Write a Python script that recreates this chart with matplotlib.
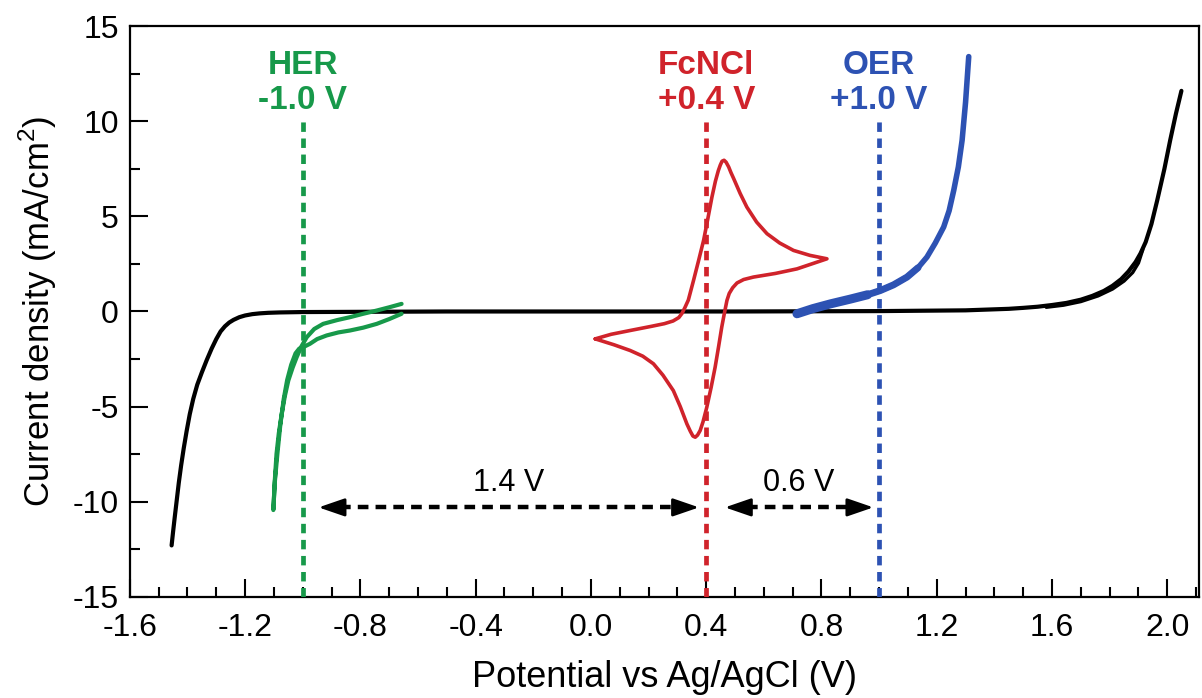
import numpy as np
import matplotlib
matplotlib.use("Agg")
import matplotlib.pyplot as plt
from matplotlib.ticker import MultipleLocator

plt.rcParams['font.family'] = ['Liberation Sans', 'DejaVu Sans']
plt.rcParams['mathtext.fontset'] = 'custom'
plt.rcParams['mathtext.rm'] = 'Liberation Sans'
plt.rcParams['axes.unicode_minus'] = False

# 空白电极 (black)
black_x = [-1.455, -1.45, -1.444, -1.437, -1.43, -1.422, -1.413, -1.403, -1.392, -1.38, -1.366,
           -1.35, -1.333, -1.316, -1.30, -1.285, -1.27, -1.255, -1.24, -1.22, -1.20, -1.175,
           -1.15, -1.12, -1.08, -1.0, -0.5, 0.0, 0.5, 1.0, 1.3, 1.45, 1.5, 1.55, 1.6, 1.65,
           1.70, 1.74, 1.78, 1.81, 1.84, 1.865, 1.89, 1.907, 1.925, 1.945, 1.965, 1.99, 2.01,
           2.03, 2.049]
black_y = [-12.3, -11.6, -10.8, -9.9, -9.0, -8.1, -7.2, -6.3, -5.4, -4.6, -3.85,
           -3.2, -2.55, -1.95, -1.45, -1.05, -0.78, -0.58, -0.44, -0.3, -0.21, -0.14,
           -0.1, -0.07, -0.05, -0.03, 0.0, 0.0, 0.0, 0.02, 0.06, 0.14, 0.19, 0.25, 0.34, 0.45,
           0.62, 0.82, 1.08, 1.35, 1.7, 2.1, 2.6, 3.05, 3.65, 4.6, 5.84, 7.5, 9.0,
           10.4, 11.6]
black2_x = [1.58, 1.64, 1.70, 1.76, 1.81, 1.85, 1.88, 1.90, 1.915]
black2_y = [0.22, 0.33, 0.52, 0.82, 1.18, 1.6, 2.05, 2.55, 3.25]

# HER (green)
green_x = [-0.657, -0.70, -0.743, -0.79, -0.836, -0.88, -0.929, -0.96, -0.986, -1.005, -1.021,
           -1.035, -1.050, -1.062, -1.073, -1.083, -1.091, -1.097, -1.102,
           -1.097, -1.088, -1.078, -1.066, -1.054, -1.040, -1.025, -1.012, -0.995, -0.975,
           -0.950, -0.917, -0.876, -0.836, -0.79, -0.743, -0.70, -0.657]
green_y = [0.40, 0.22, 0.05, -0.12, -0.30, -0.45, -0.65, -0.92, -1.35, -1.85, -2.40,
           -2.95, -3.63, -4.45, -5.39, -6.4, -7.49, -8.9, -10.44,
           -9.0, -7.5, -6.0, -4.6, -3.6, -2.8, -2.2, -1.95, -1.85, -1.70,
           -1.45, -1.26, -1.10, -1.0, -0.85, -0.65, -0.40, -0.12]

# FcNCl CV (red)
red_x = [0.015, 0.07, 0.136, 0.21, 0.255, 0.285, 0.305, 0.316, 0.326, 0.338, 0.356, 0.374,
         0.391, 0.406, 0.420, 0.432, 0.442, 0.449, 0.455, 0.462, 0.469, 0.478, 0.486, 0.495,
         0.518, 0.541, 0.575, 0.611, 0.655, 0.703, 0.76, 0.819, 0.715, 0.64, 0.564, 0.53,
         0.507, 0.492, 0.48, 0.472, 0.463, 0.454, 0.443, 0.431, 0.417, 0.402, 0.389, 0.379,
         0.37, 0.362, 0.354, 0.345, 0.333, 0.31, 0.286, 0.25, 0.217, 0.18, 0.136, 0.08, 0.015]
red_y = [-1.44, -1.2, -1.0, -0.78, -0.64, -0.5, -0.32, -0.1, 0.2, 0.6, 1.63, 2.7,
         3.74, 4.9, 6.02, 6.85, 7.4, 7.7, 7.9, 7.95, 7.85, 7.6, 7.3, 7.0,
         6.2, 5.49, 4.7, 4.09, 3.6, 3.21, 2.95, 2.77, 2.24, 2.0, 1.81, 1.68,
         1.5, 1.25, 0.95, 0.58, -0.1, -0.82, -1.85, -2.93, -4.0, -5.04, -5.8, -6.26,
         -6.5, -6.61, -6.55, -6.3, -5.91, -5.0, -4.16, -3.35, -2.75, -2.35, -2.05, -1.75, -1.44]

# OER (blue)
blue_x = [0.715, 0.77, 0.831, 0.90, 0.96, 1.004, 1.05, 1.097, 1.135, 1.166, 1.195, 1.224,
          1.243, 1.259, 1.275, 1.288, 1.30, 1.311]
blue_y = [-0.12, 0.15, 0.40, 0.65, 0.88, 1.1, 1.4, 1.81, 2.3, 2.86, 3.6, 4.44,
          5.3, 6.37, 7.6, 9.0, 11.0, 13.4]

# 标注
mark_pos = [-1.0, 0.4, 1.0]
mark_name = ['HER\n-1.0 V', 'FcNCl\n+0.4 V', 'OER\n+1.0 V']
gap_label = ['1.4 V', '0.6 V']
xtick_val = [-1.6, -1.2, -0.8, -0.4, 0.0, 0.4, 0.8, 1.2, 1.6, 2.0]
xtick_lab = ['-1.6', '-1.2', '-0.8', '-0.4', '0.0', '0.4', '0.8', '1.2', '1.6', '2.0']

c_green = '#17994a'
c_red = '#d0232b'
c_blue = '#2d52b3'
mark_color = [c_green, c_red, c_blue]

fig = plt.figure(figsize=(12.02, 6.98), dpi=100)
ax = fig.add_axes([0.108, 0.145, 0.8895, 0.8175])

rj = dict(solid_joinstyle='round', solid_capstyle='round')
ax.plot(black_x, black_y, color='k', lw=3, **rj)
ax.plot(black2_x, black2_y, color='k', lw=2.4, **rj)
ax.plot(green_x, green_y, color=c_green, lw=3, **rj)
ax.plot(red_x, red_y, color=c_red, lw=2.6, **rj)
ax.plot(blue_x, blue_y, color=c_blue, lw=4, **rj)
ax.plot(blue_x[:9], blue_y[:9], color=c_blue, lw=5, **rj)
ax.plot(blue_x[:5], blue_y[:5], color=c_blue, lw=6.5, **rj)

for i in range(3):
    ax.plot([mark_pos[i], mark_pos[i]], [-15, 10], color=mark_color[i], lw=3.4,
            linestyle=(0, (2.0, 1.4)), zorder=5)
    ax.text(mark_pos[i], 12.0, mark_name[i], color=mark_color[i], fontsize=24,
            fontweight='bold', ha='center', va='center', linespacing=1.15)

# 电位差箭头: 虚线 + 实心箭头
arrow_y = -10.3
head = 0.075
spans = [(-0.945, 0.375), (0.465, 0.98)]
for (x0, x1), lab in zip(spans, gap_label):
    ax.plot([x0 + head, x1 - head], [arrow_y, arrow_y], color='k', lw=3.2,
            linestyle=(0, (2.4, 1.6)))
    for tip, base in [(x0, x0 + head), (x1, x1 - head)]:
        ax.annotate('', xy=(tip, arrow_y), xytext=(base, arrow_y),
                    arrowprops=dict(arrowstyle='-|>,head_length=1.6,head_width=0.55',
                                    color='k', lw=2, shrinkA=0, shrinkB=0))
    ax.text((x0 + x1) / 2, -9.0, lab, fontsize=22, ha='center', va='center')

ax.set_xlim(-1.6, 2.11)
ax.set_ylim(-15, 15)
ax.set_xticks(xtick_val)
ax.set_xticklabels(xtick_lab)
ax.set_yticks(np.arange(-15, 16, 5))
ax.xaxis.set_minor_locator(MultipleLocator(0.1))
ax.yaxis.set_minor_locator(MultipleLocator(2.5))
ax.tick_params(which='both', direction='in', width=1.5, labelsize=23)
ax.tick_params(which='major', length=13)
ax.tick_params(which='minor', length=7)
ax.tick_params(axis='x', pad=12)
ax.tick_params(axis='y', pad=8)
for s in ax.spines.values():
    s.set_linewidth(1.6)

ax.set_xlabel('Potential vs Ag/AgCl (V)', fontsize=26, labelpad=12)
ax.set_ylabel(r'Current density (mA/cm$^{2}$)', fontsize=25, labelpad=10)

plt.savefig('out.png', dpi=100)
